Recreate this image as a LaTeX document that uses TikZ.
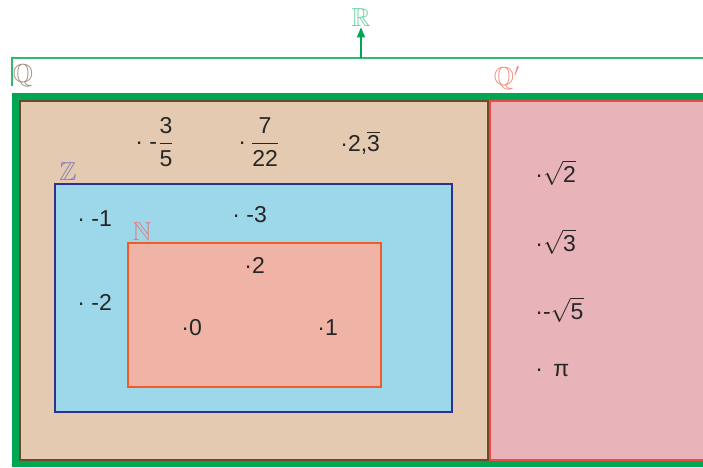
\documentclass[tikz,border=0pt]{standalone}
\usepackage{amsmath}
\usepackage{amssymb}
\usepackage{fontspec}
\setmainfont{Liberation Sans}
\usetikzlibrary{arrows.meta}

\definecolor{framegreen}{HTML}{00A651}
\definecolor{tanfill}{HTML}{E3CAB0}
\definecolor{tanline}{HTML}{6B4A2B}
\definecolor{pinkfill}{HTML}{E8B4BA}
\definecolor{pinkline}{HTML}{EE4A45}
\definecolor{bluefill}{HTML}{9DD8EA}
\definecolor{blueline}{HTML}{2E3192}
\definecolor{salmonfill}{HTML}{F0B4A6}
\definecolor{salmonline}{HTML}{F15A29}
\definecolor{rlabel}{HTML}{6CCFA3}
\definecolor{qlabel}{HTML}{9C8D7C}
\definecolor{qplabel}{HTML}{F28C7E}
\definecolor{zlabel}{HTML}{8C7DB9}
\definecolor{nlabel}{HTML}{E27F80}

\begin{document}
\begin{tikzpicture}[x=0.5pt, y=-0.5pt,
    num/.style={font=\fontsize{11.5}{13}\selectfont, text=black!85, anchor=west, inner sep=0pt},
    setname/.style={font=\fontsize{13}{15}\selectfont, inner sep=0pt}]
    \useasboundingbox (0,0) rectangle (703,467);
    \clip (0,0) rectangle (703,467);

    % the bracket over Q and Q' with the arrow to R
    \coordinate (rbase) at (361,58);
    \node[setname, text=rlabel] (rname) at (361,18) {$\mathbb{R}$};
    \draw[framegreen!80, line width=0.6pt] (12,86) -- (12,58) -- (720,58);
    \draw[framegreen, line width=0.7pt, -{Triangle[length=5pt,width=4pt]}] (rbase) -- (rname);
    \node[setname, text=qlabel] (qname) at (23,76) {$\mathbb{Q}$};
    \node[setname, text=qplabel] (qpname) at (507,78) {$\mathbb{Q}'$};

    % the sets
    \fill[framegreen] (12,93) rectangle (720,467);
    \draw[tanline, fill=tanfill, line width=1pt] (20,101) rectangle (488,460);
    \draw[pinkline, fill=pinkfill, line width=0.8pt] (490,101) rectangle (720,460);
    \draw[blueline, fill=bluefill, line width=1.2pt] (55,184) rectangle (452,412);
    \draw[salmonline, fill=salmonfill, line width=1pt] (128,243) rectangle (381,387);
    \node[setname, text=zlabel] (zname) at (68,172) {$\mathbb{Z}$};
    \node[setname, text=nlabel] (nname) at (142,232) {$\mathbb{N}$};

    % rationals
    \node[num] (qa) at (135,142) {· -$\dfrac{\text{3}}{\text{5}}$};
    \node[num] (qb) at (238,142) {·\,$\dfrac{\text{7}}{\text{22}}$};
    \node[num] (qc) at (340,143) {·2,$\overline{\text{3}}$};

    % integers
    \node[num] (za) at (77,219) {· -1};
    \node[num] (zb) at (232,215) {· -3};
    \node[num] (zc) at (77,302) {· -2};

    % naturals
    \node[num] (na) at (244,265) {·2};
    \node[num] (nb) at (181,328) {·0};
    \node[num] (nc) at (317,328) {·1};

    % irrationals
    \foreach \y/\t in {173/{$\sqrt{\text{2}}$}, 242/{$\sqrt{\text{3}}$}, 310/{-$\sqrt{\text{5}}$}, 371/{\ \,π}} {
      \node[num] (irr\y) at (535,\y) {·\t};
    }
\end{tikzpicture}
\end{document}
